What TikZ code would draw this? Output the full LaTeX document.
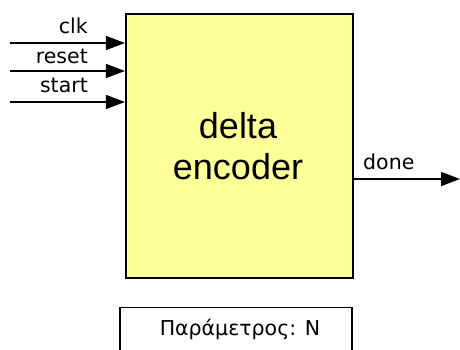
\documentclass[tikz,border=0pt]{standalone}
\usepackage{fontspec}
\setmainfont{Liberation Sans}
\newfontfamily\lblfont{DejaVu Sans}
\usetikzlibrary{arrows.meta}
\definecolor{encfill}{HTML}{FFFF99}
\tikzset{
  encbox/.style={draw=black, line width=2.2pt, fill=encfill, inner sep=0pt},
  sig/.style={line width=1.6pt, -{Triangle[length=19pt,width=14pt]}},
  siglabel/.style={inner sep=0pt, font=\lblfont\fontsize{20.5}{24}\selectfont},
  parbox/.style={draw=black, line width=1.3pt, inner sep=0pt}
}
\begin{document}
\begin{tikzpicture}[x=1pt,y=-1pt]
\clip (0,0) rectangle (460,350);
\fill[white] (0,0) rectangle (460,350);
\node[encbox, minimum width=227pt, minimum height=264pt] (enc) at (239.5,146) {};
\node[align=center, inner sep=0pt, font=\fontsize{36}{41}\selectfont] (enctext) at (238,146) {delta\\encoder};
% inputs
\coordinate (clkin) at (10,43);
\coordinate (rstin) at (10,71);
\coordinate (stin) at (10,102);
\draw[sig] (clkin) -- (clkin -| enc.west);
\draw[sig] (rstin) -- (rstin -| enc.west);
\draw[sig] (stin) -- (stin -| enc.west);
\node[siglabel, anchor=base east] (clklab) at (88,34) {clk};
\node[siglabel, anchor=base east] (rstlab) at (88,64) {reset};
\node[siglabel, anchor=base east] (stlab) at (88,93) {start};
% output
\coordinate (doneout) at (460,179);
\draw[sig] (enc.east |- doneout) -- (doneout);
\node[siglabel, anchor=base west] (donelab) at (363,169) {done};
% parameter box
\node[parbox, minimum width=232pt, minimum height=50pt, anchor=north] (param) at (236,307) {};
\node[inner sep=0pt, anchor=base, font=\lblfont\fontsize{20.5}{24}\selectfont] (paramtext) at (240,335) {Παράμετρος: N};
\end{tikzpicture}
\end{document}
